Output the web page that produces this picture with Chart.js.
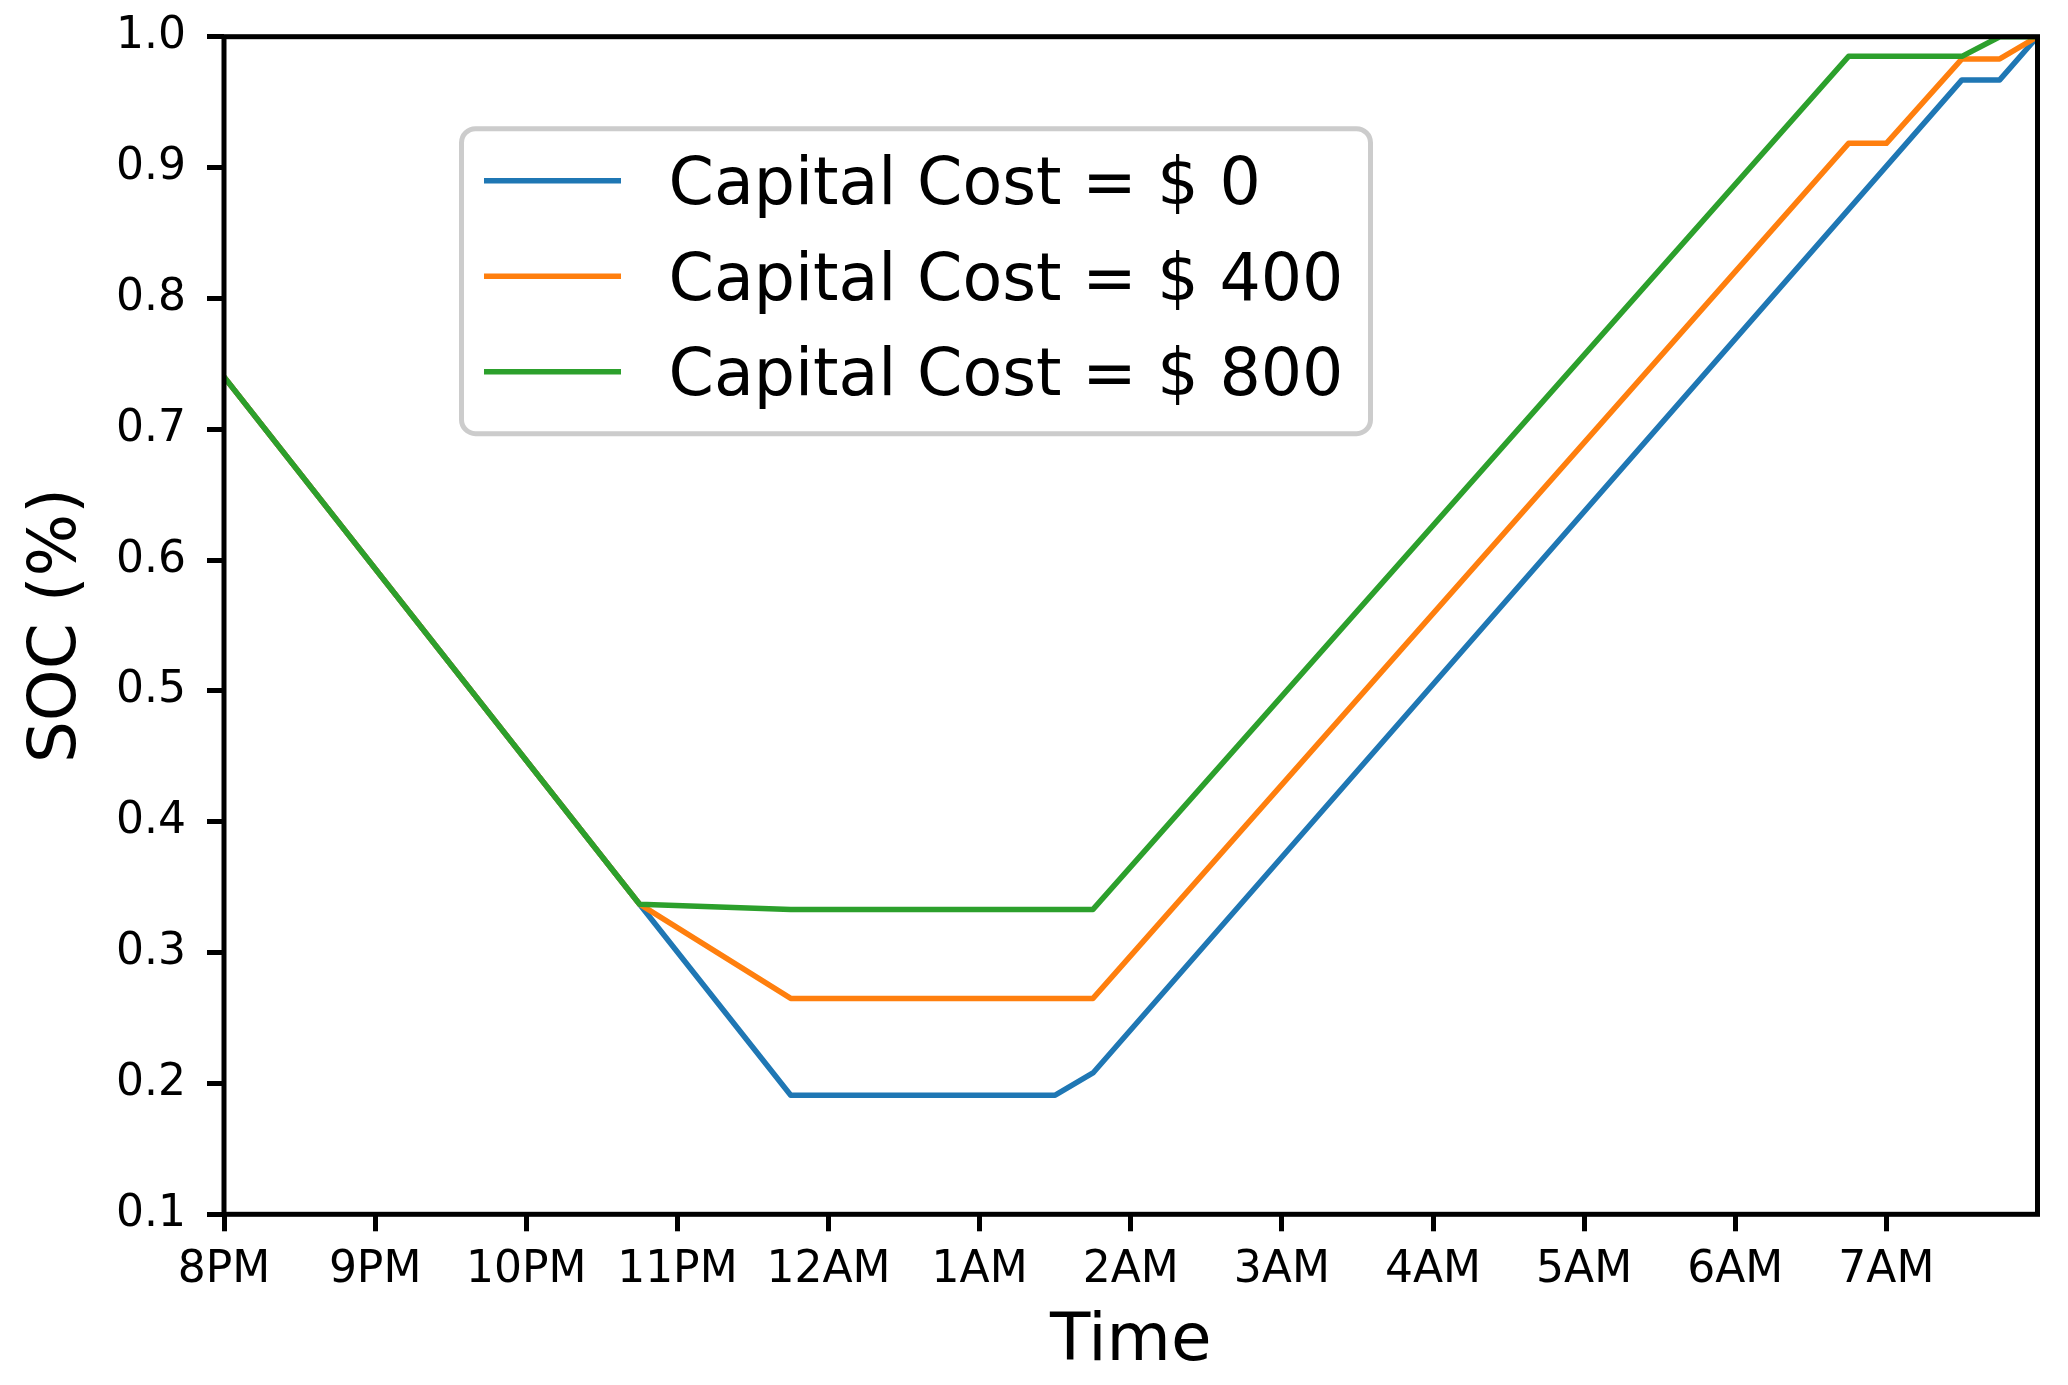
<!DOCTYPE html>
<html>
<head>
<meta charset="utf-8">
<title>SOC vs Time</title>
<script src="https://cdn.jsdelivr.net/npm/chart.js@4.4.1/dist/chart.umd.min.js"></script>
<style>
  html, body { margin: 0; padding: 0; background: #fff; }
  #wrap { position: relative; width: 2068px; height: 1385px; }
</style>
</head>
<body>
<div id="wrap"><canvas id="soc-chart"></canvas></div>
<script>
// x values are hours after 8 PM, only the corners of each line are listed
const hourLabels = ['8PM', '9PM', '10PM', '11PM', '12AM', '1AM', '2AM', '3AM', '4AM', '5AM', '6AM', '7AM'];

const cost0Hours   = [0, 2.75, 3.75, 5.5, 5.75, 11.5, 11.75, 12];
const cost0Soc     = [0.740, 0.337, 0.191, 0.191, 0.208, 0.967, 0.967, 1.0];

const cost400Hours = [0, 2.75, 3.75, 5.75, 10.75, 11.0, 11.5, 11.75, 12];
const cost400Soc   = [0.740, 0.337, 0.265, 0.265, 0.9185, 0.9185, 0.983, 0.983, 1.0];

const cost800Hours = [0, 2.75, 3.75, 5.75, 10.75, 11.5, 11.75, 12];
const cost800Soc   = [0.740, 0.337, 0.333, 0.333, 0.985, 0.985, 1.0, 1.0];

const seriesNames  = ['Capital Cost = $ 0', 'Capital Cost = $ 400', 'Capital Cost = $ 800'];

const FONT   = "'DejaVu Sans', sans-serif";
const BLUE   = '#1f77b4';
const ORANGE = '#ff7f0e';
const GREEN  = '#2ca02c';

const toPoints = (xs, ys) => xs.map((x, i) => ({ x, y: ys[i] }));

Chart.defaults.font.family = FONT;
Chart.defaults.color = '#000';

// ── frame + boxed legend, drawn over the lines like matplotlib does ──
const frameAndLegend = {
  id: 'frameAndLegend',
  afterDatasetsDraw(chart) {
    const { ctx, chartArea: a } = chart;
    ctx.save();

    ctx.strokeStyle = '#000';
    ctx.lineWidth = 5;
    ctx.strokeRect(a.left, a.top, a.right - a.left, a.bottom - a.top);

    const bx = a.left + 237.5, by = a.top + 92, bw = 909, bh = 305;
    ctx.beginPath();
    ctx.roundRect(bx, by, bw, bh, 14);
    ctx.fillStyle = 'rgba(255,255,255,0.8)';
    ctx.fill();
    ctx.lineWidth = 5;
    ctx.strokeStyle = '#cccccc';
    ctx.stroke();

    ctx.font = `65px ${FONT}`;
    ctx.textBaseline = 'alphabetic';
    ctx.textAlign = 'left';
    chart.data.datasets.forEach((ds, i) => {
      const ly = by + 52 + i * 95.5;
      ctx.beginPath();
      ctx.moveTo(bx + 22.5, ly);
      ctx.lineTo(bx + 159.5, ly);
      ctx.strokeStyle = ds.borderColor;
      ctx.lineWidth = 5.5;
      ctx.stroke();
      ctx.fillStyle = '#000';
      ctx.fillText(ds.label, bx + 207, ly + 23.5);
    });

    ctx.restore();
  }
};

const lineStyle = {
  borderWidth: 5.5,
  pointRadius: 0,
  pointHoverRadius: 0,
  tension: 0,
  fill: false,
  borderJoinStyle: 'round'
};

// keep the plot box fixed: no extra room asked for by the tick labels
const pinPadding = axis => {
  axis.paddingTop = 0;
  axis.paddingBottom = 0;
  axis.paddingLeft = 0;
  axis.paddingRight = 0;
};

new Chart(document.getElementById('soc-chart'), {
  type: 'line',
  data: {
    datasets: [
      { label: seriesNames[0], data: toPoints(cost0Hours, cost0Soc),     borderColor: BLUE,   order: 3, ...lineStyle },
      { label: seriesNames[1], data: toPoints(cost400Hours, cost400Soc), borderColor: ORANGE, order: 2, ...lineStyle },
      { label: seriesNames[2], data: toPoints(cost800Hours, cost800Soc), borderColor: GREEN,  order: 1, ...lineStyle }
    ]
  },
  options: {
    responsive: true,
    maintainAspectRatio: false,
    animation: false,
    layout: { padding: { left: 0, right: 30.5, top: 36.7, bottom: 0 } },
    plugins: {
      legend: { display: false },
      tooltip: { enabled: false }
    },
    scales: {
      x: {
        type: 'linear',
        min: 0,
        max: 12,
        afterBuildTicks: axis => { axis.ticks = hourLabels.map((_, i) => ({ value: i })); },
        afterFit: axis => { axis.height = 170.7; pinPadding(axis); },
        border: { display: false },
        grid: { drawOnChartArea: false, drawTicks: true, tickLength: 17, tickWidth: 5, tickColor: '#000' },
        ticks: {
          autoSkip: false,
          maxRotation: 0,
          minRotation: 0,
          padding: 13,
          font: { size: 44 },
          callback: v => hourLabels[v]
        },
        title: { display: true, text: 'Time', font: { size: 66 }, padding: { top: 0, bottom: 3 } }
      },
      y: {
        min: 0.1,
        max: 1.0,
        afterFit: axis => { axis.width = 224; pinPadding(axis); },
        border: { display: false },
        grid: { drawOnChartArea: false, drawTicks: true, tickLength: 17, tickWidth: 5, tickColor: '#000' },
        ticks: {
          stepSize: 0.1,
          padding: 21,
          font: { size: 44 },
          callback: v => Number(v).toFixed(1)
        },
        title: { display: true, text: 'SOC (%)', font: { size: 66 }, padding: { top: 18, bottom: 0 } }
      }
    }
  },
  plugins: [frameAndLegend]
});
</script>
</body>
</html>
